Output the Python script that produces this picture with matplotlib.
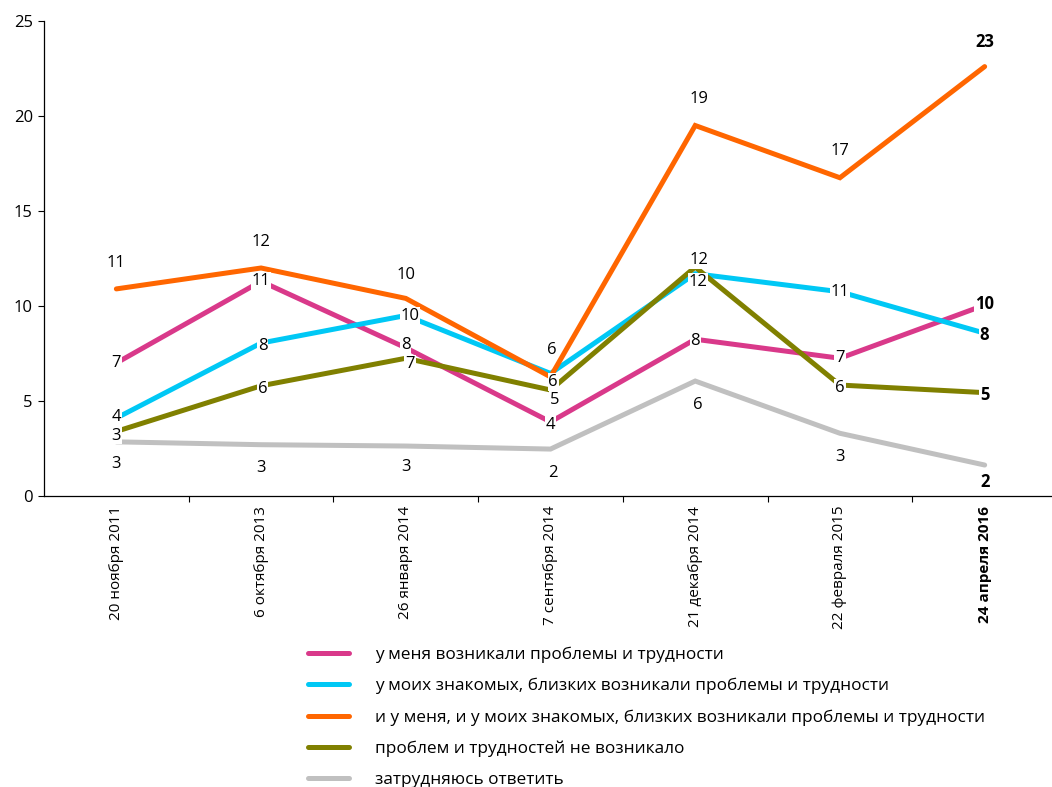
import matplotlib.pyplot as plt
import numpy as np

plt.rcParams["font.family"] = ["Open Sans", "DejaVu Sans"]

dates = ["20 ноября 2011", "6 октября 2013", "26 января 2014", "7 сентября 2014",
         "21 декабря 2014", "22 февраля 2015", "24 апреля 2016"]

series_names = [
    "у меня возникали проблемы и трудности",
    "у моих знакомых, близких возникали проблемы и трудности",
    "и у меня, и у моих знакомых, близких возникали проблемы и трудности",
    "проблем и трудностей не возникало",
    "затрудняюсь ответить",
]
colors = ["#d9398a", "#00c8f5", "#ff6600", "#808000", "#c0c0c0"]

# plotted (unrounded) values and the printed labels
me = [7.0, 11.3, 7.8, 3.9, 8.25, 7.25, 10.05]
friends = [4.1, 8.05, 9.5, 6.45, 11.7, 10.75, 8.57]
both = [10.9, 12.0, 10.4, 6.27, 19.5, 16.75, 22.6]
none_ = [3.4, 5.8, 7.25, 5.58, 12.05, 5.84, 5.44]
dunno = [2.85, 2.7, 2.63, 2.47, 6.05, 3.3, 1.63]

me_lbl = [7, 11, 8, 4, 8, 7, 10]
friends_lbl = [4, 8, 10, 6, 12, 11, 8]
both_lbl = [11, 12, 10, 6, 19, 17, 23]
none_lbl = [3, 6, 7, 5, 12, 6, 5]
dunno_lbl = [3, 3, 3, 2, 6, 3, 2]

values = [me, friends, both, none_, dunno]
labels = [me_lbl, friends_lbl, both_lbl, none_lbl, dunno_lbl]
# label offset in points: (dx, dy)
offsets = [
    [(0, 0), (0, 0), (0, 2), (0, -2), (0, -1), (0, 0), (0, 1)],
    [(0, 1), (1, -2), (3, 0), (2, -6), (2, -6), (0, 0), (0, -1)],
    [(0, 19), (0, 19), (0, 17), (1, 19), (3, 19), (0, 19), (0, 18)],
    [(0, -3), (1, -2), (3, -4), (3, -7), (3, 5), (0, -2), (0, -2)],
    [(0, -16), (0, -17), (0, -15), (2, -17), (2, -17), (0, -17), (0, -12)],
]
boxed = [True, True, False, True, False]

x = np.arange(len(dates))

fig = plt.figure(figsize=(10.52, 7.87), dpi=100)
ax = fig.add_axes([44 / 1052, 1 - 496 / 787, 1013 / 1052, (496 - 21) / 787])

handles = []
for vals, col, name in zip(values, colors, series_names):
    h, = ax.plot(x, vals, color=col, lw=3.6, solid_capstyle="round",
                 solid_joinstyle="miter", label=name)
    handles.append(h)

for k in range(len(values)):
    for i in range(len(x)):
        dx, dy = offsets[k][i]
        bold = i == len(x) - 1
        kw = {}
        if boxed[k]:
            kw["bbox"] = dict(boxstyle="square,pad=0.05", fc="white", ec="none")
        ax.annotate(str(labels[k][i]), xy=(x[i], values[k][i]),
                    xytext=(dx, dy), textcoords="offset points",
                    ha="center", va="center", fontsize=12,
                    fontweight="bold" if bold else "normal", color="black",
                    zorder=5, **kw)

ax.set_xlim(-0.5, len(x) - 0.5)
ax.set_ylim(0, 25)
ax.set_yticks(range(0, 26, 5))
ax.tick_params(axis="y", labelsize=12, length=4, width=0.8, direction="out", pad=4)
ax.set_xticks(x)
ax.set_xticklabels(dates, rotation=90, fontsize=11, ha="center", va="top")
ax.tick_params(axis="x", length=0, pad=7)
ax.set_xticks(np.arange(0.5, len(x) - 0.5, 1), minor=True)
ax.tick_params(axis="x", which="minor", length=4, width=0.8)
ax.get_xticklabels()[-1].set_fontweight("bold")

ax.spines["top"].set_visible(False)
ax.spines["right"].set_visible(False)
ax.spines["left"].set_linewidth(0.9)
ax.spines["bottom"].set_linewidth(0.9)

fig.legend(handles=handles, loc="upper left", bbox_to_anchor=(301 / 1052, 1 - 640 / 787),
           frameon=False, fontsize=12.4,
           handlelength=2.38, handletextpad=1.5, labelspacing=0.86, borderaxespad=0)

fig.savefig("out.png", dpi=100)
